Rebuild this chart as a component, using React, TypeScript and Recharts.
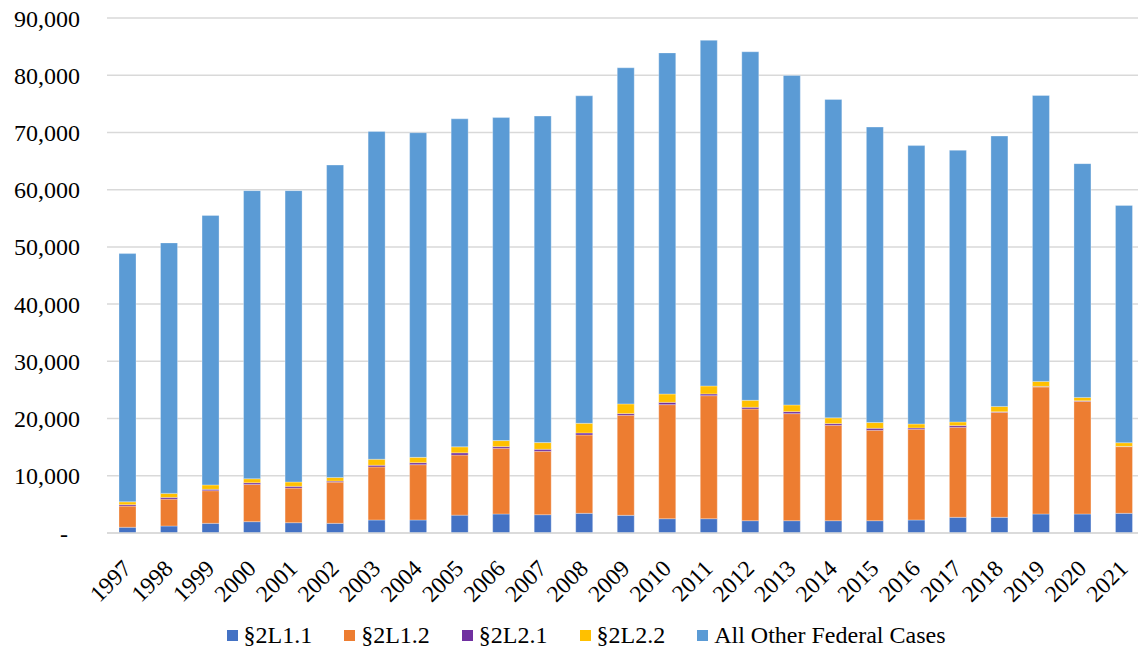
import React from "react";
import { BarChart, Bar, XAxis, YAxis, CartesianGrid, Legend } from "recharts";

const years = ["1997","1998","1999","2000","2001","2002","2003","2004","2005","2006","2007","2008","2009","2010","2011","2012","2013","2014","2015","2016","2017","2018","2019","2020","2021"];
const s2L11 = [1000,1220,1690,1980,1800,1690,2270,2270,3120,3320,3200,3440,3090,2500,2500,2150,2150,2150,2150,2270,2740,2740,3320,3320,3440];
const s2L12 = [3700,4700,5700,6500,6050,7200,9270,9670,10490,11480,11080,13690,17480,19930,21500,19520,18710,16670,15800,15850,15730,18350,22200,19690,11650];
const s2L21 = [250,300,250,300,300,175,300,350,400,300,350,350,300,400,300,300,350,300,350,230,300,100,100,100,50];
const s2L22 = [500,700,760,700,760,640,1050,930,1050,1050,1170,1690,1690,1460,1400,1220,1170,1000,1000,700,640,930,870,580,640];
const totals = [48830,50700,55500,59830,59830,64300,70180,69950,72380,72600,72860,76400,81300,83900,86100,84100,79950,75770,70940,67700,66880,69370,76460,64550,57250];
const yTicks = [0,10000,20000,30000,40000,50000,60000,70000,80000,90000];

const seriesNames = ["§2L1.1","§2L1.2","§2L2.1","§2L2.2","All Other Federal Cases"];
const seriesKeys = ["a","b","c","d","e"];
const seriesColors = ["#4472C4","#ED7D31","#7030A0","#FFC000","#5B9BD5"];

const data = years.map((y, i) => ({
  year: y,
  a: s2L11[i],
  b: s2L12[i],
  c: s2L21[i],
  d: s2L22[i],
  e: totals[i] - s2L11[i] - s2L12[i] - s2L21[i] - s2L22[i],
}));

const FONT = "'Liberation Serif', 'Times New Roman', serif";

const XTick = (props: any) => {
  const { x, y, payload } = props;
  return (
    <g transform={`translate(${x + 5},${y + 29})`}>
      <text x={0} y={0} textAnchor="end" transform="rotate(-45)" fontFamily={FONT} fontSize={23.5} fill="#000">
        {payload.value}
      </text>
    </g>
  );
};

const fmtY = (v: number) => (v === 0 ? "-\u00A0\u00A0" : v.toLocaleString("en-US"));

const LegendContent = () => (
  <div style={{ display: "flex", justifyContent: "center", fontFamily: FONT, fontSize: 24, color: "#000", paddingLeft: 22 }}>
    {seriesNames.map((n, i) => (
      <div key={n} style={{ display: "flex", alignItems: "center", marginRight: i < seriesNames.length - 1 ? 32 : 0 }}>
        <span style={{ display: "inline-block", width: 11, height: 11, background: seriesColors[i], marginRight: 6 }} />
        <span>{n}</span>
      </div>
    ))}
  </div>
);

export default function App() {
  return (
    <div style={{ position: "absolute", left: 0, top: 0, width: 1138, height: 655, overflow: "hidden", background: "#fff" }}>
      <BarChart width={1150} height={655} data={data} margin={{ top: 18, right: 5, left: 0, bottom: 0 }} barSize={17}>
        <CartesianGrid vertical={false} stroke="#D9D9D9" strokeWidth={1.5} />
        <XAxis dataKey="year" tick={<XTick />} tickLine={false} axisLine={{ stroke: "#D9D9D9", strokeWidth: 1.5 }} height={80} interval={0} />
        <YAxis
          width={107}
          domain={[0, 90000]}
          ticks={yTicks}
          tickFormatter={fmtY}
          tickLine={false}
          axisLine={false}
          tickSize={0}
          tickMargin={27}
          tick={{ fontFamily: FONT, fontSize: 24, fill: "#000" }}
          interval={0}
        />
        <Legend verticalAlign="bottom" height={42} content={<LegendContent />} wrapperStyle={{ left: 0, width: 1150, top: 622, bottom: "auto" }} />
        {seriesKeys.map((k, i) => (
          <Bar key={k} dataKey={k} name={seriesNames[i]} stackId="s" fill={seriesColors[i]} stroke="#ffffff" strokeOpacity={0.5} strokeWidth={0.6} isAnimationActive={false} />
        ))}
      </BarChart>
    </div>
  );
}
